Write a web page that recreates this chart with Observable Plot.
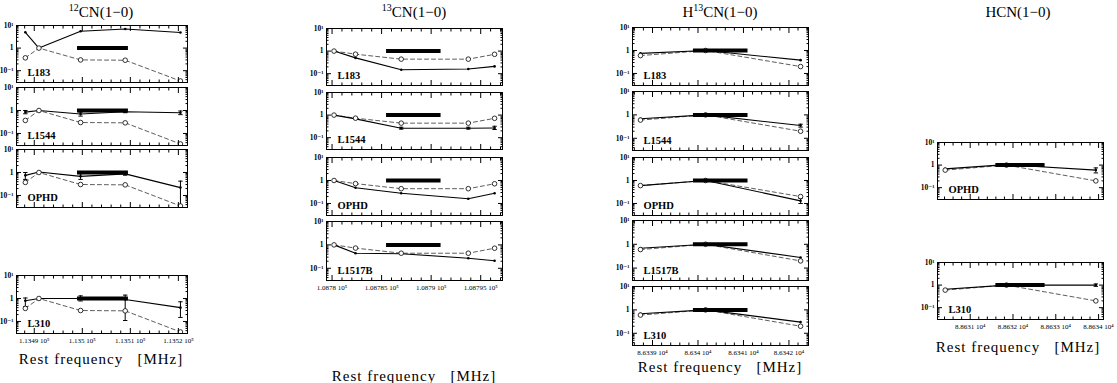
<!DOCTYPE html>
<html><head><meta charset="utf-8">
<script src="https://cdn.jsdelivr.net/npm/d3@7"></script>
<script src="https://cdn.jsdelivr.net/npm/@observablehq/plot@0.6"></script>
<style>
body{margin:0;background:#fff;}
#fig{position:relative;width:1117px;height:383px;overflow:hidden;background:#fff;font-family:"Liberation Serif","DejaVu Serif",serif;color:#000;}
.title{position:absolute;font-size:15px;line-height:18px;transform:translateX(-50%);white-space:nowrap;}
.title sup{font-size:10px;vertical-align:6px;line-height:0;}
.xlab{position:absolute;font-size:15px;line-height:18px;letter-spacing:1px;transform:translateX(-50%);white-space:pre;}
</style></head><body><div id="fig"></div>
<script>
// ---------------- DATA ----------------
// 12CN(1-0)
const freq12CN = [113488.14, 113490.97, 113499.64, 113508.93, 113520.43];
const lte12CN = [0.37, 1, 0.30, 0.29, 0.035];
const obs12CN_L183 = [5.0, 1.0, 5.6, 7.0, 4.9];
const lo12CN_L183 = [null, null, null, null, null];
const hi12CN_L183 = [null, null, null, null, null];
const obs12CN_L1544 = [0.85, 1.0, 0.70, 0.88, 0.80];
const lo12CN_L1544 = [0.72, null, 0.57, 0.80, 0.66];
const hi12CN_L1544 = [1.0, null, 0.85, 0.97, 0.95];
const obs12CN_OPHD = [0.75, 1.05, 0.68, 0.87, 0.22];
const lo12CN_OPHD = [0.50, null, 0.50, 0.76, 0.03];
const hi12CN_OPHD = [1.0, null, 0.88, 1.0, 0.42];
const obs12CN_L310 = [0.80, 1.0, 1.0, 0.90, 0.40];
const lo12CN_L310 = [0.45, null, 0.78, 0.11, 0.15];
const hi12CN_L310 = [1.05, null, 1.3, 1.4, 0.72];
const bar12CN = [113499.0, 113509.6];
const ticks12CN = [113490, 113500, 113510, 113520];

// 13CN(1-0)
const freq13CN = [108780.20, 108782.37, 108786.98, 108793.75, 108796.40];
const lte13CN = [1, 0.73, 0.44, 0.44, 0.72];
const obs13CN_L183 = [1, 0.50, 0.15, 0.16, 0.21];
const lo13CN_L183 = [null, null, null, null, null];
const hi13CN_L183 = [null, null, null, null, null];
const obs13CN_L1544 = [1, 0.68, 0.26, 0.26, 0.27];
const lo13CN_L1544 = [null, null, 0.24, 0.24, 0.23];
const hi13CN_L1544 = [null, null, 0.29, 0.29, 0.32];
const obs13CN_OPHD = [1, 0.48, 0.28, 0.16, 0.28];
const lo13CN_OPHD = [null, null, null, null, null];
const hi13CN_OPHD = [null, null, null, null, null];
const obs13CN_L1517B = [1, 0.44, 0.42, 0.27, 0.21];
const lo13CN_L1517B = [null, null, null, null, null];
const hi13CN_L1517B = [null, null, null, null, null];
const bar13CN = [108785.5, 108791.0];
const ticks13CN = [108780, 108785, 108790, 108795];

// H13CN(1-0)
const freqH13CN = [86338.735, 86340.167, 86342.256];
const lteH13CN = [0.6, 1, 0.2];
const obsH13CN_L183 = [0.75, 1.0, 0.38];
const loH13CN_L183 = [null, null, null];
const hiH13CN_L183 = [null, null, null];
const obsH13CN_L1544 = [0.68, 1.0, 0.35];
const loH13CN_L1544 = [null, null, 0.30];
const hiH13CN_L1544 = [null, null, 0.40];
const obsH13CN_OPHD = [0.60, 1.0, 0.13];
const loH13CN_OPHD = [null, null, 0.10];
const hiH13CN_OPHD = [null, null, 0.17];
const obsH13CN_L1517B = [0.68, 1.0, 0.28];
const loH13CN_L1517B = [null, null, null];
const hiH13CN_L1517B = [null, null, null];
const obsH13CN_L310 = [0.68, 1.0, 0.30];
const loH13CN_L310 = [null, null, null];
const hiH13CN_L310 = [null, null, null];
const barH13CN = [86339.9, 86341.1];
const ticksH13CN = [86339, 86340, 86341, 86342];

// HCN(1-0)
const freqHCN = [88630.416, 88631.847, 88633.936];
const lteHCN = [0.6, 1, 0.2];
const obsHCN_OPHD = [0.68, 1.05, 0.60];
const loHCN_OPHD = [null, null, 0.45];
const hiHCN_OPHD = [null, null, 0.75];
const obsHCN_L310 = [0.65, 1.0, 1.0];
const loHCN_L310 = [null, null, 0.88];
const hiHCN_L310 = [null, null, 1.12];
const barHCN = [88631.6, 88632.75];
const ticksHCN = [88631, 88632, 88633, 88634];

const yTicks = [0.1, 1, 10];
const yTickLabels = ["10\u207B\u00B9", "1", "10\u00B9"];

// ---------------- LAYOUT ----------------
const fig = document.getElementById("fig");
const FONT = '"Liberation Serif","DejaVu Serif",serif';

const columns = [
  {key: "12CN", title: "<sup>12</sup>CN(1\u22120)", cx: 101, titleY: 3, xlabY: 350,
   xpx: [16, 187], xdom: [113486.3, 113521.9], exp: 5, minorStep: 2,
   freq: freq12CN, lte: lte12CN, bar: bar12CN, ticks: ticks12CN,
   panels: [
     {name: "L183", obs: obs12CN_L183, lo: lo12CN_L183, hi: hi12CN_L183, y: [25, 82]},
     {name: "L1544", obs: obs12CN_L1544, lo: lo12CN_L1544, hi: hi12CN_L1544, y: [87, 145]},
     {name: "OPHD", obs: obs12CN_OPHD, lo: lo12CN_OPHD, hi: hi12CN_OPHD, y: [149, 207]},
     {name: "L310", obs: obs12CN_L310, lo: lo12CN_L310, hi: hi12CN_L310, y: [275, 333]}
   ]},
  {key: "13CN", title: "<sup>13</sup>CN(1\u22120)", cx: 414, titleY: 3, xlabY: 367,
   xpx: [326, 502], xdom: [108779.44, 108797.2], exp: 5, minorStep: 1,
   freq: freq13CN, lte: lte13CN, bar: bar13CN, ticks: ticks13CN,
   panels: [
     {name: "L183", obs: obs13CN_L183, lo: lo13CN_L183, hi: hi13CN_L183, y: [28, 85]},
     {name: "L1544", obs: obs13CN_L1544, lo: lo13CN_L1544, hi: hi13CN_L1544, y: [92, 149]},
     {name: "OPHD", obs: obs13CN_OPHD, lo: lo13CN_OPHD, hi: hi13CN_OPHD, y: [157, 215]},
     {name: "L1517B", obs: obs13CN_L1517B, lo: lo13CN_L1517B, hi: hi13CN_L1517B, y: [221, 280]}
   ]},
  {key: "H13CN", title: "H<sup>13</sup>CN(1\u22120)", cx: 720, titleY: 3, xlabY: 358,
   xpx: [632, 808], xdom: [86338.56, 86342.43], exp: 4, minorStep: 0.2,
   freq: freqH13CN, lte: lteH13CN, bar: barH13CN, ticks: ticksH13CN,
   panels: [
     {name: "L183", obs: obsH13CN_L183, lo: loH13CN_L183, hi: hiH13CN_L183, y: [27, 85]},
     {name: "L1544", obs: obsH13CN_L1544, lo: loH13CN_L1544, hi: hiH13CN_L1544, y: [91, 150]},
     {name: "OPHD", obs: obsH13CN_OPHD, lo: loH13CN_OPHD, hi: hiH13CN_OPHD, y: [157, 215]},
     {name: "L1517B", obs: obsH13CN_L1517B, lo: loH13CN_L1517B, hi: hiH13CN_L1517B, y: [220, 280]},
     {name: "L310", obs: obsH13CN_L310, lo: loH13CN_L310, hi: hiH13CN_L310, y: [286, 345]}
   ]},
  {key: "HCN", title: "HCN(1\u22120)", cx: 1018, titleY: 3, xlabY: 338,
   xpx: [937, 1103], xdom: [88630.236, 88634.115], exp: 4, minorStep: 0.2,
   freq: freqHCN, lte: lteHCN, bar: barHCN, ticks: ticksHCN,
   panels: [
     {name: "OPHD", obs: obsHCN_OPHD, lo: loHCN_OPHD, hi: hiHCN_OPHD, y: [142, 199]},
     {name: "L310", obs: obsHCN_L310, lo: loHCN_L310, hi: hiHCN_L310, y: [262, 319]}
   ]}
];

const capSymbol = {draw(ctx, size) { const r = Math.sqrt(size / Math.PI); ctx.moveTo(-r, 0); ctx.lineTo(r, 0); }};
const yMinor = [0.04,0.05,0.06,0.07,0.08,0.09,0.2,0.3,0.4,0.5,0.6,0.7,0.8,0.9,2,3,4,5,6,7,8,9];

function fmtX(exp) {
  return d => `${+(d / Math.pow(10, exp)).toFixed(6)} 10${exp === 5 ? "\u2075" : "\u2074"}`;
}

for (const col of columns) {
  const t = document.createElement("div");
  t.className = "title"; t.innerHTML = col.title;
  t.style.left = col.cx + "px"; t.style.top = col.titleY + "px";
  fig.appendChild(t);
  const xl = document.createElement("div");
  xl.className = "xlab"; xl.textContent = "Rest frequency   [MHz]";
  xl.style.left = col.cx + "px"; xl.style.top = col.xlabY + "px";
  fig.appendChild(xl);

  const minor = d3.range(Math.ceil(col.xdom[0] / col.minorStep), Math.floor(col.xdom[1] / col.minorStep) + 1)
    .map(k => +(k * col.minorStep).toFixed(4))
    .filter(v => !col.ticks.some(m => Math.abs(m - v) < 1e-6));

  col.panels.forEach((p, pi) => {
    const last = pi === col.panels.length - 1;
    const mL = 24, mR = 8, mT = 6, mB = last ? 18 : 6;
    const [x0, x1] = col.xpx, [y0, y1] = p.y;
    const pts = col.freq.map((f, i) => ({f, lte: col.lte[i], obs: p.obs[i], lo: p.lo[i], hi: p.hi[i]}));
    const errs = pts.filter(d => d.lo != null);
    const caps = errs.flatMap(d => [{f: d.f, v: d.lo}, {f: d.f, v: d.hi}]);
    const marks = [
      Plot.line(pts, {x: "f", y: "lte", stroke: "#333", strokeWidth: 0.8, strokeDasharray: "4,3", clip: true}),
      Plot.line(pts, {x: "f", y: "obs", stroke: "#000", strokeWidth: 1.1, clip: true}),
      Plot.ruleX(errs, {x: "f", y1: "lo", y2: "hi", stroke: "#000", strokeWidth: 1, clip: true}),
      Plot.dot(caps, {x: "f", y: "v", r: 2.2, symbol: capSymbol, stroke: "#000", fill: "none", strokeWidth: 1, clip: true}),
      Plot.dot(pts, {x: "f", y: "obs", r: 1.3, fill: "#000", clip: true}),
      Plot.dot(pts, {x: "f", y: "lte", r: 2.3, stroke: "#000", fill: "white", strokeWidth: 0.8, clip: true}),
      Plot.ruleY([{y: 1, a: col.bar[0], b: col.bar[1]}], {y: "y", x1: "a", x2: "b", stroke: "#000", strokeWidth: 4}),
      Plot.frame({stroke: "#000", strokeWidth: 1}),
      Plot.axisX({anchor: "bottom", ticks: col.ticks, tickSize: -5, tickFormat: () => "", label: null}),
      Plot.axisX({anchor: "top", ticks: col.ticks, tickSize: -5, tickFormat: () => "", label: null}),
      Plot.axisX({anchor: "bottom", ticks: minor, tickSize: -2.5, tickFormat: () => "", label: null}),
      Plot.axisX({anchor: "top", ticks: minor, tickSize: -2.5, tickFormat: () => "", label: null}),
      Plot.axisY({anchor: "left", ticks: yTicks, tickSize: -5, tickFormat: () => "", label: null}),
      Plot.axisY({anchor: "right", ticks: yTicks, tickSize: -5, tickFormat: () => "", label: null}),
      Plot.axisY({anchor: "left", ticks: yMinor, tickSize: -2.5, tickFormat: () => "", label: null}),
      Plot.axisY({anchor: "right", ticks: yMinor, tickSize: -2.5, tickFormat: () => "", label: null}),
      Plot.axisY({anchor: "left", ticks: yTicks, tickSize: 0, tickPadding: 3, label: null,
        tickFormat: d => yTickLabels[yTicks.indexOf(d)], fontSize: 7.5, fontWeight: "bold", fill: "#000"}),
      Plot.text([p.name], {text: d => d, frameAnchor: "bottom-left", dx: 11, dy: -7, lineAnchor: "bottom",
        textAnchor: "start", fontSize: 10.5, fontWeight: "bold", fontFamily: FONT, fill: "#000"})
    ];
    if (last) marks.push(Plot.axisX({anchor: "bottom", ticks: col.ticks, tickSize: 0, tickPadding: 5,
      tickFormat: fmtX(col.exp), label: null, fontSize: 7, fill: "#000"}));
    const svg = Plot.plot({
      width: x1 - x0 + mL + mR, height: y1 - y0 + mT + mB,
      marginLeft: mL, marginRight: mR, marginTop: mT, marginBottom: mB,
      x: {domain: col.xdom},
      y: {type: "log", domain: [0.03, 10]},
      style: {background: "transparent", overflow: "visible", fontFamily: FONT, color: "#000"},
      marks
    });
    svg.style.position = "absolute";
    svg.style.left = (x0 - mL) + "px";
    svg.style.top = (y0 - mT) + "px";
    fig.appendChild(svg);
  });
}
</script></body></html>
